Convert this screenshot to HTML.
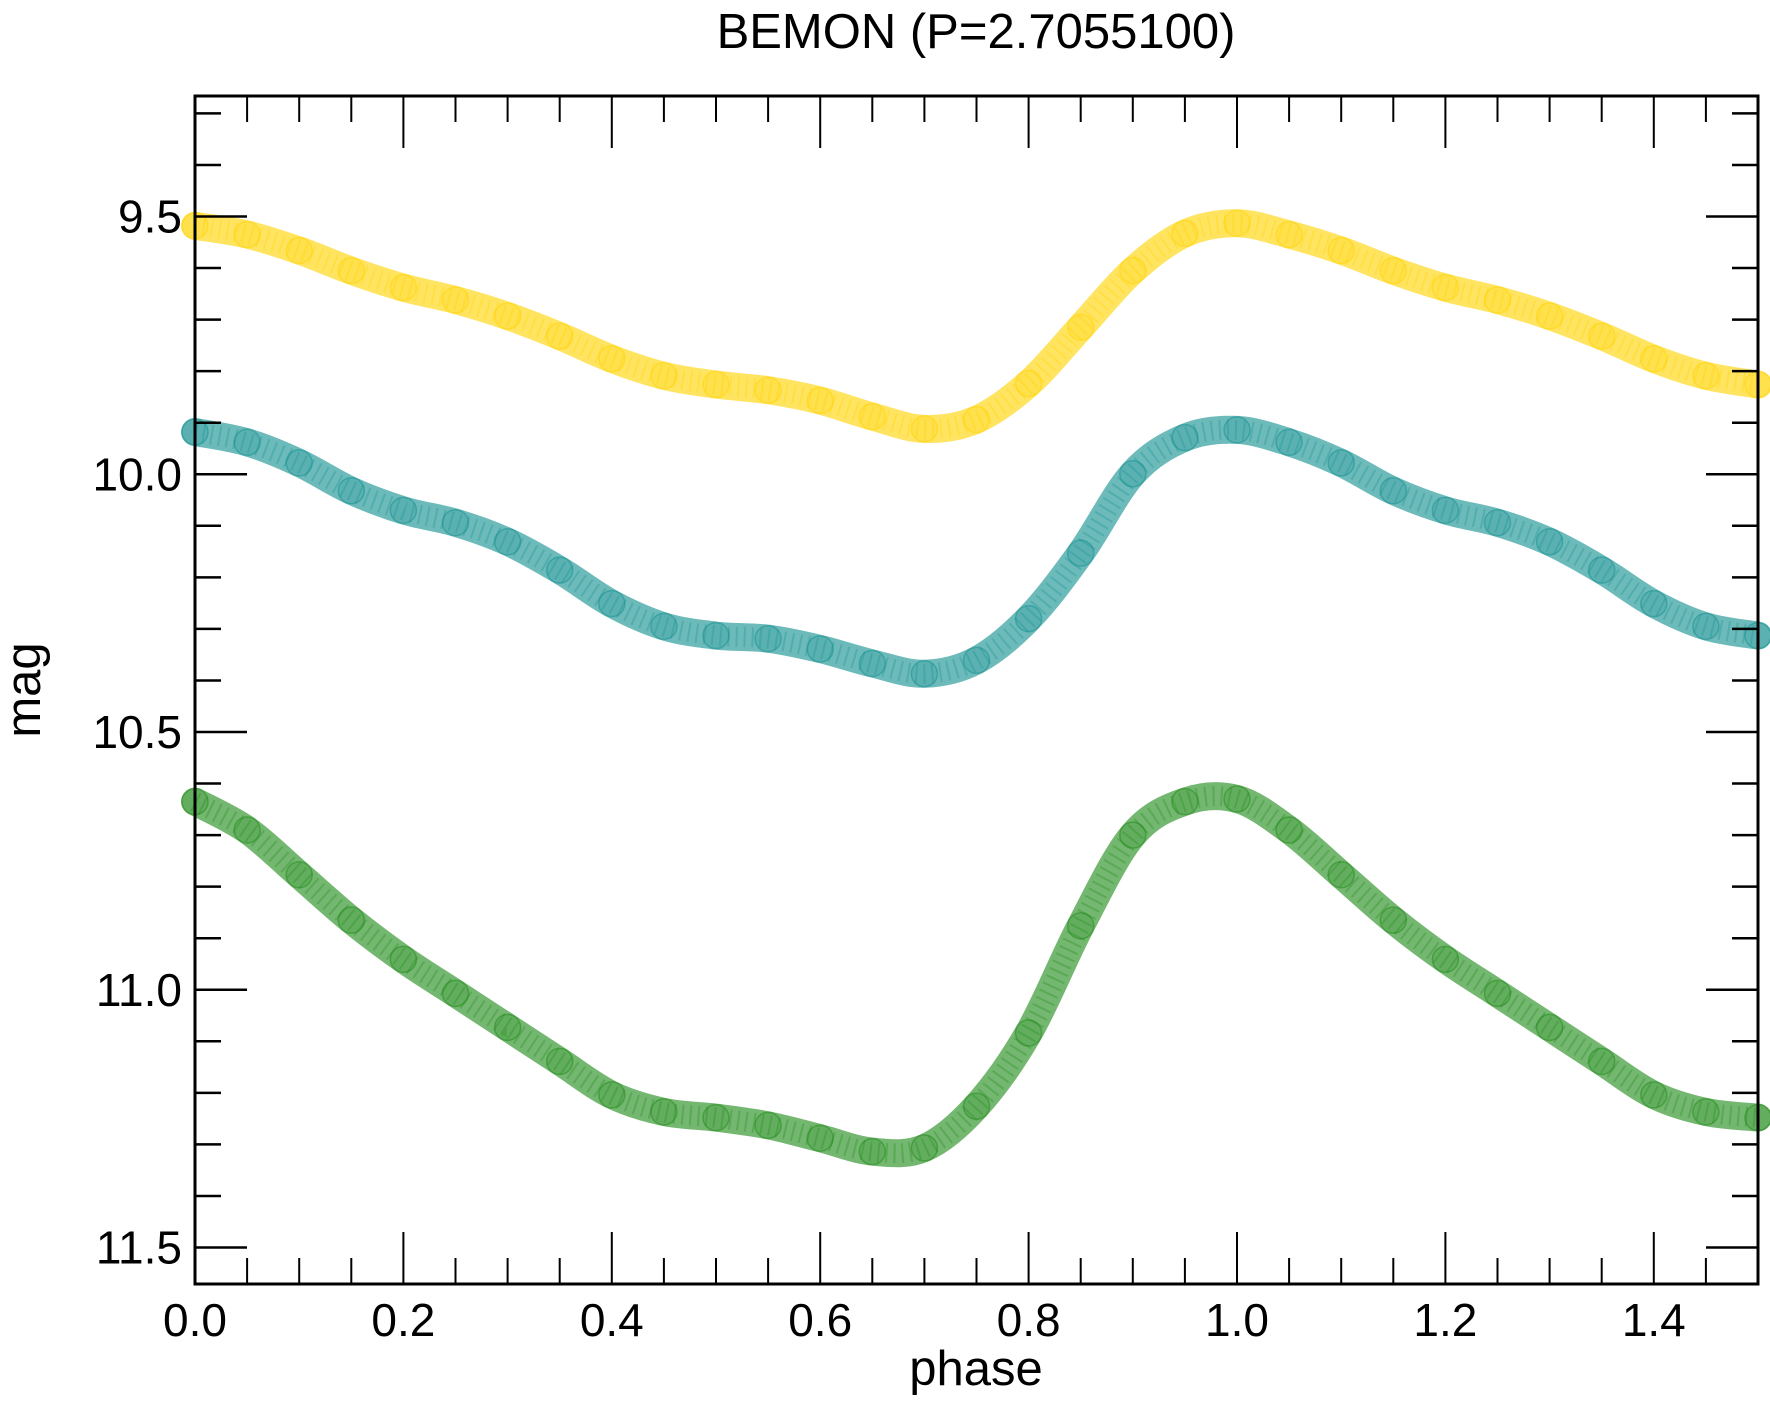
<!DOCTYPE html>
<html><head><meta charset="utf-8"><style>
html,body{margin:0;padding:0;background:#fff}
svg{display:block;font-family:"Liberation Sans",sans-serif}
</style></head><body>
<svg id="chart" width="1770" height="1407" viewBox="0 0 1770 1407" xmlns="http://www.w3.org/2000/svg">
<text x="976" y="48" font-size="49" text-anchor="middle">BEMON (P=2.7055100)</text>
<g id="marks"></g>
<g id="axes"></g>
<rect x="195" y="96" width="1563" height="1188" fill="none" stroke="#000" stroke-width="3"/>
<text x="976" y="1385" font-size="49" text-anchor="middle">phase</text>
<text transform="translate(40,690) rotate(-90)" font-size="49" text-anchor="middle">mag</text>
</svg>
<script>
const phases = [0,0.05,0.1,0.15,0.2,0.25,0.3,0.35,0.4,0.45,0.5,0.55,0.6,0.65,0.7,0.75,0.8,0.85,0.9,0.95,1.0];
const magYellow = [9.518,9.535,9.566,9.605,9.638,9.662,9.693,9.732,9.776,9.809,9.826,9.837,9.857,9.888,9.912,9.894,9.824,9.715,9.605,9.533,9.513];
const magTeal = [9.918,9.938,9.978,10.032,10.070,10.094,10.131,10.186,10.251,10.295,10.313,10.319,10.339,10.367,10.387,10.361,10.280,10.153,9.999,9.929,9.914];
const magGreen = [10.635,10.690,10.777,10.865,10.941,11.007,11.073,11.139,11.204,11.237,11.248,11.263,11.288,11.314,11.307,11.226,11.084,10.876,10.700,10.635,10.630];
const xTicks = [0,0.2,0.4,0.6,0.8,1.0,1.2,1.4];
const xTickLabels = ["0.0","0.2","0.4","0.6","0.8","1.0","1.2","1.4"];
const yTicks = [9.5,10.0,10.5,11.0,11.5];
const yTickLabels = ["9.5","10.0","10.5","11.0","11.5"];

const NS="http://www.w3.org/2000/svg";
const L=195,R=1758,T=96,B=1284;
function X(p){return L+p*(R-L)/1.5;}
function Y(m){return 216.5+(m-9.5)*515.5;}
function mk(tag,attrs,parent){const e=document.createElementNS(NS,tag);for(const k in attrs)e.setAttribute(k,attrs[k]);parent.appendChild(e);return e;}
const marks=document.getElementById('marks'), axes=document.getElementById('axes');

const series=[[magYellow,'#FFD400','yellow'],[magTeal,'#13908F','teal'],[magGreen,'#1F8A18','green']];
series.forEach(([mags,col,nm])=>{
  const pts=[];
  for(let i=0;i<phases.length;i++)pts.push([X(phases[i]),Y(mags[i])]);
  for(let i=1;i<phases.length;i++){if(phases[i]+1<=1.5001)pts.push([X(phases[i]+1),Y(mags[i])]);}
  let d='M'+pts[0][0]+','+pts[0][1];
  for(let i=0;i<pts.length-1;i++){
    const p0=pts[Math.max(0,i-1)],p1=pts[i],p2=pts[i+1],p3=pts[Math.min(pts.length-1,i+2)];
    d+=' C'+(p1[0]+(p2[0]-p0[0])/6)+','+(p1[1]+(p2[1]-p0[1])/6)+' '+(p2[0]-(p3[0]-p1[0])/6)+','+(p2[1]-(p3[1]-p1[1])/6)+' '+p2[0]+','+p2[1];
  }
  const g=mk('g',{},marks);
  
  
  const band=mk('path',{d:d,fill:'none',stroke:col,'stroke-width':28,'stroke-opacity':0.62,'stroke-linecap':'round'},g);
  
  
  const edge=mk('path',{d:d,fill:'none',stroke:col,'stroke-width':20,'stroke-opacity':0.3,'stroke-dasharray':'2 6'},g);
  
  
  pts.forEach(p=>{
    const c=mk('circle',{cx:p[0],cy:p[1],r:13,fill:col,'fill-opacity':0.2,stroke:col,'stroke-opacity':0.5,'stroke-width':1.5},g);
    
    
  });
});

for(let i=0;i<=30;i++){
  const p=i*0.05,x=X(p),major=(i%4===0);
  const len=major?52:26;
  mk('line',{x1:x,y1:B,x2:x,y2:B-len,stroke:'#000','stroke-width':2},axes);
  mk('line',{x1:x,y1:T,x2:x,y2:T+len,stroke:'#000','stroke-width':2},axes);
}
xTicks.forEach((v,i)=>{
  const t=mk('text',{x:X(v),y:1336,'font-size':46,'text-anchor':'middle'},axes);
  t.textContent=xTickLabels[i];
  
  
});
for(let i=0;i<=22;i++){
  const m=9.3+i*0.1;const y=Y(m);if(y<T||y>B)continue;
  const major=Math.abs(Math.round(m*2)/2-m)<1e-6;
  const len=major?52:26;
  mk('line',{x1:L,y1:y,x2:L+len,y2:y,stroke:'#000','stroke-width':2.5},axes);
  mk('line',{x1:R,y1:y,x2:R-len,y2:y,stroke:'#000','stroke-width':2.5},axes);
}
yTicks.forEach((v,i)=>{
  const t=mk('text',{x:182,y:Y(v)+16,'font-size':46,'text-anchor':'end'},axes);
  t.textContent=yTickLabels[i];
  
  
});
</script>
</body></html>
